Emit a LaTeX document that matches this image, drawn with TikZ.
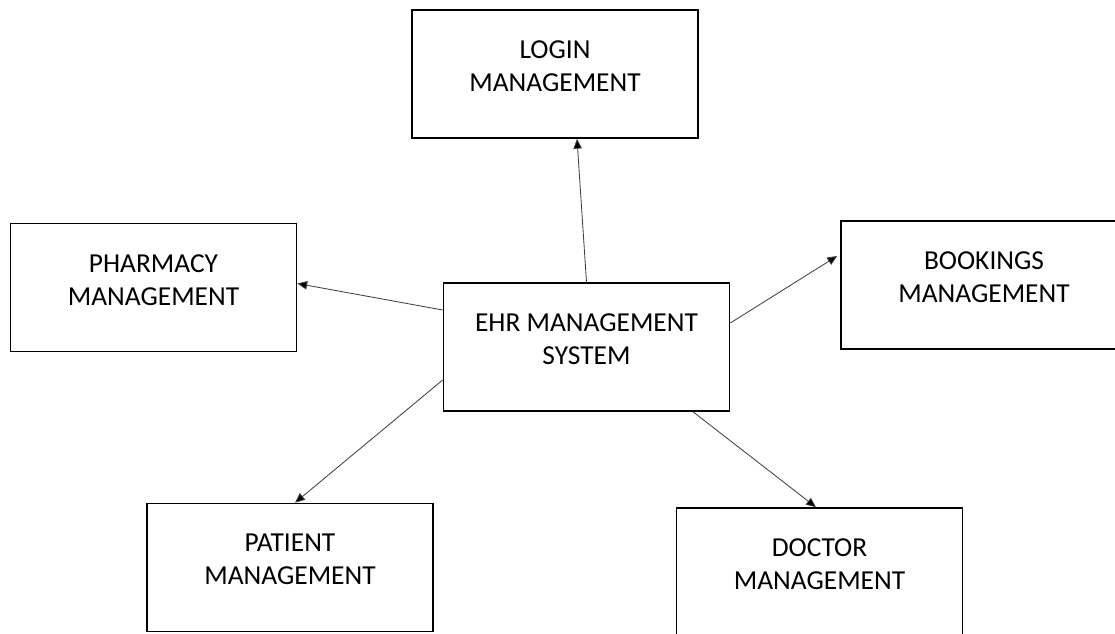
\documentclass[tikz,border=0pt]{standalone}
\usepackage{fontspec}
\setmainfont{Carlito}
\usetikzlibrary{arrows.meta,calc}
\begin{document}
\begin{tikzpicture}[x=0.025cm, y=-0.025cm,
  box/.style={draw, line width=1.1pt, minimum width=7.15cm, minimum height=3.2cm},
  txt/.style={align=center, font=\fontsize{19.5}{23.5}\selectfont},
  link/.style={draw=black!75, line width=0.6pt, -{Triangle[length=7pt, width=6pt, fill=black]}}]
\useasboundingbox (0,0) rectangle (1115,633);
\node[box] (login) at (555,74) {};
\node[txt] (logint) at (555,66) {LOGIN\\MANAGEMENT};
\node[box] (pharm) at (153.5,287.5) {};
\node[txt] (pharmt) at (153.5,280) {PHARMACY\\MANAGEMENT};
\node[box] (ehr) at (586.5,347) {};
\node[txt] (ehrt) at (586.5,339.5) {EHR MANAGEMENT\\SYSTEM};
\node[box] (book) at (984,285) {};
\node[txt] (bookt) at (984,277) {BOOKINGS\\MANAGEMENT};
\node[box] (pat) at (290,567.5) {};
\node[txt] (patt) at (290,559) {PATIENT\\MANAGEMENT};
\node[box] (doc) at (819.5,572) {};
\node[txt] (doct) at (819.5,564) {DOCTOR\\MANAGEMENT};
\draw[link] (ehr.north) -- ($(login.south)+(22,0)$);
\draw[link] ($(ehr.west)+(0,-37)$) -- ($(pharm.east)+(0,-4)$);
\draw[link] ($(ehr.east)+(0,-24)$) -- ($(book.west)+(-3,-29)$);
\draw[link] ($(ehr.west)+(0,33)$) -- ($(pat.north)+(5,0)$);
\draw[link] ($(ehr.south)+(106.5,0)$) -- ($(doc.north)+(-3.5,0)$);
\end{tikzpicture}
\end{document}
